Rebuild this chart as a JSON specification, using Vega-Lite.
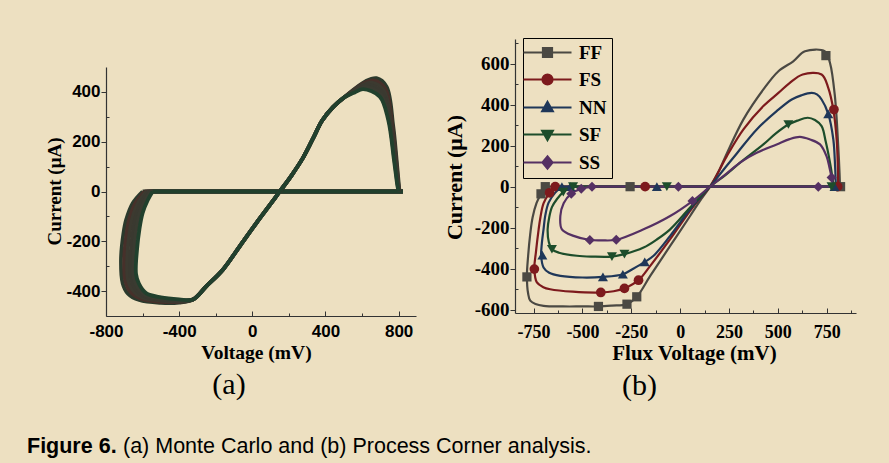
{
"$schema": "https://vega.github.io/schema/vega-lite/v6.json",
"background": "#EDE0C1",
"autosize": {"type": "pad"},
"padding": {"left": 27, "top": 34, "right": 33, "bottom": 5},
"config": {"view": {"stroke": null}, "axis": {"grid": false, "domainColor": "#333", "tickColor": "#333", "domainWidth": 1.2, "tickWidth": 1, "labelColor": "#000", "titleColor": "#000", "labelOverlap": false, "labelFlush": false}},
"title": {"text": "Figure 6.", "orient": "bottom", "anchor": "start", "frame": "group", "font": "Liberation Sans", "fontSize": 21.5, "fontWeight": "bold", "color": "#000", "offset": -21.5, "dx": -79},
"datasets": {
"mc": [
{"r":0,"p":"z","i":0,"v":823,"c":0},{"r":0,"p":"z","i":1,"v":-600,"c":0},
{"r":1,"p":"z","i":0,"v":823,"c":0},{"r":1,"p":"z","i":1,"v":-589,"c":0},
{"r":2,"p":"z","i":0,"v":823,"c":0},{"r":2,"p":"z","i":1,"v":-578,"c":0},
{"r":3,"p":"z","i":0,"v":823,"c":0},{"r":3,"p":"z","i":1,"v":-567,"c":0},
{"r":4,"p":"z","i":0,"v":823,"c":0},{"r":4,"p":"z","i":1,"v":-556,"c":0},
{"r":5,"p":"z","i":0,"v":823,"c":0},{"r":5,"p":"z","i":1,"v":-545,"c":0},
{"r":0,"p":"l","i":1,"v":-600,"c":0},{"r":0,"p":"l","i":2,"v":-654,"c":-47},{"r":0,"p":"l","i":3,"v":-690,"c":-114},{"r":0,"p":"l","i":4,"v":-705,"c":-170},{"r":0,"p":"l","i":5,"v":-718,"c":-274},{"r":0,"p":"l","i":6,"v":-709,"c":-368},{"r":0,"p":"l","i":7,"v":-680,"c":-410},{"r":0,"p":"l","i":8,"v":-618,"c":-436},{"r":0,"p":"l","i":9,"v":-500,"c":-447},{"r":0,"p":"l","i":10,"v":-400,"c":-446},{"r":0,"p":"l","i":11,"v":-325,"c":-434},{"r":0,"p":"l","i":12,"v":-252,"c":-381},{"r":0,"p":"l","i":13,"v":-161,"c":-314},{"r":0,"p":"l","i":14,"v":-70,"c":-221},{"r":0,"p":"l","i":15,"v":22,"c":-127},{"r":0,"p":"l","i":16,"v":90,"c":-60},{"r":0,"p":"l","i":17,"v":150,"c":0},{"r":0,"p":"l","i":18,"v":215,"c":65},{"r":0,"p":"l","i":19,"v":277,"c":135},{"r":0,"p":"l","i":20,"v":330,"c":210},{"r":0,"p":"l","i":21,"v":382,"c":285},{"r":0,"p":"l","i":22,"v":440,"c":338},{"r":0,"p":"l","i":23,"v":497,"c":375},{"r":0,"p":"l","i":24,"v":620,"c":443},{"r":0,"p":"l","i":25,"v":679,"c":455},{"r":0,"p":"l","i":26,"v":734,"c":421},{"r":0,"p":"l","i":27,"v":770,"c":265},{"r":0,"p":"l","i":28,"v":789,"c":127},{"r":0,"p":"l","i":29,"v":802,"c":20},{"r":0,"p":"l","i":30,"v":805,"c":0},
{"r":1,"p":"l","i":1,"v":-589,"c":0},{"r":1,"p":"l","i":2,"v":-638,"c":-45},{"r":1,"p":"l","i":3,"v":-672,"c":-109},{"r":1,"p":"l","i":4,"v":-687,"c":-166},{"r":1,"p":"l","i":5,"v":-700,"c":-265},{"r":1,"p":"l","i":6,"v":-694,"c":-360},{"r":1,"p":"l","i":7,"v":-668,"c":-402},{"r":1,"p":"l","i":8,"v":-611,"c":-430},{"r":1,"p":"l","i":9,"v":-500,"c":-443},{"r":1,"p":"l","i":10,"v":-400,"c":-443},{"r":1,"p":"l","i":11,"v":-325,"c":-434},{"r":1,"p":"l","i":12,"v":-252,"c":-381},{"r":1,"p":"l","i":13,"v":-161,"c":-314},{"r":1,"p":"l","i":14,"v":-70,"c":-221},{"r":1,"p":"l","i":15,"v":22,"c":-127},{"r":1,"p":"l","i":16,"v":90,"c":-60},{"r":1,"p":"l","i":17,"v":150,"c":0},{"r":1,"p":"l","i":18,"v":215,"c":65},{"r":1,"p":"l","i":19,"v":277,"c":135},{"r":1,"p":"l","i":20,"v":330,"c":210},{"r":1,"p":"l","i":21,"v":382,"c":285},{"r":1,"p":"l","i":22,"v":440,"c":338},{"r":1,"p":"l","i":23,"v":497,"c":375},{"r":1,"p":"l","i":24,"v":608,"c":434},{"r":1,"p":"l","i":25,"v":664,"c":446},{"r":1,"p":"l","i":26,"v":727,"c":413},{"r":1,"p":"l","i":27,"v":765,"c":270},{"r":1,"p":"l","i":28,"v":786,"c":128},{"r":1,"p":"l","i":29,"v":800,"c":20},{"r":1,"p":"l","i":30,"v":804,"c":0},
{"r":2,"p":"l","i":1,"v":-578,"c":0},{"r":2,"p":"l","i":2,"v":-621,"c":-42},{"r":2,"p":"l","i":3,"v":-654,"c":-103},{"r":2,"p":"l","i":4,"v":-670,"c":-162},{"r":2,"p":"l","i":5,"v":-683,"c":-256},{"r":2,"p":"l","i":6,"v":-680,"c":-353},{"r":2,"p":"l","i":7,"v":-656,"c":-394},{"r":2,"p":"l","i":8,"v":-603,"c":-425},{"r":2,"p":"l","i":9,"v":-500,"c":-438},{"r":2,"p":"l","i":10,"v":-400,"c":-441},{"r":2,"p":"l","i":11,"v":-325,"c":-434},{"r":2,"p":"l","i":12,"v":-252,"c":-381},{"r":2,"p":"l","i":13,"v":-161,"c":-314},{"r":2,"p":"l","i":14,"v":-70,"c":-221},{"r":2,"p":"l","i":15,"v":22,"c":-127},{"r":2,"p":"l","i":16,"v":90,"c":-60},{"r":2,"p":"l","i":17,"v":150,"c":0},{"r":2,"p":"l","i":18,"v":215,"c":65},{"r":2,"p":"l","i":19,"v":277,"c":135},{"r":2,"p":"l","i":20,"v":330,"c":210},{"r":2,"p":"l","i":21,"v":382,"c":285},{"r":2,"p":"l","i":22,"v":440,"c":338},{"r":2,"p":"l","i":23,"v":497,"c":375},{"r":2,"p":"l","i":24,"v":596,"c":425},{"r":2,"p":"l","i":25,"v":650,"c":437},{"r":2,"p":"l","i":26,"v":719,"c":405},{"r":2,"p":"l","i":27,"v":759,"c":274},{"r":2,"p":"l","i":28,"v":783,"c":128},{"r":2,"p":"l","i":29,"v":799,"c":20},{"r":2,"p":"l","i":30,"v":803,"c":0},
{"r":3,"p":"l","i":1,"v":-567,"c":0},{"r":3,"p":"l","i":2,"v":-605,"c":-40},{"r":3,"p":"l","i":3,"v":-636,"c":-98},{"r":3,"p":"l","i":4,"v":-652,"c":-158},{"r":3,"p":"l","i":5,"v":-665,"c":-248},{"r":3,"p":"l","i":6,"v":-665,"c":-345},{"r":3,"p":"l","i":7,"v":-644,"c":-386},{"r":3,"p":"l","i":8,"v":-596,"c":-419},{"r":3,"p":"l","i":9,"v":-500,"c":-434},{"r":3,"p":"l","i":10,"v":-400,"c":-438},{"r":3,"p":"l","i":11,"v":-325,"c":-434},{"r":3,"p":"l","i":12,"v":-252,"c":-381},{"r":3,"p":"l","i":13,"v":-161,"c":-314},{"r":3,"p":"l","i":14,"v":-70,"c":-221},{"r":3,"p":"l","i":15,"v":22,"c":-127},{"r":3,"p":"l","i":16,"v":90,"c":-60},{"r":3,"p":"l","i":17,"v":150,"c":0},{"r":3,"p":"l","i":18,"v":215,"c":65},{"r":3,"p":"l","i":19,"v":277,"c":135},{"r":3,"p":"l","i":20,"v":330,"c":210},{"r":3,"p":"l","i":21,"v":382,"c":285},{"r":3,"p":"l","i":22,"v":440,"c":338},{"r":3,"p":"l","i":23,"v":497,"c":375},{"r":3,"p":"l","i":24,"v":584,"c":416},{"r":3,"p":"l","i":25,"v":635,"c":429},{"r":3,"p":"l","i":26,"v":712,"c":397},{"r":3,"p":"l","i":27,"v":754,"c":279},{"r":3,"p":"l","i":28,"v":780,"c":129},{"r":3,"p":"l","i":29,"v":797,"c":20},{"r":3,"p":"l","i":30,"v":802,"c":0},
{"r":4,"p":"l","i":1,"v":-556,"c":0},{"r":4,"p":"l","i":2,"v":-588,"c":-37},{"r":4,"p":"l","i":3,"v":-618,"c":-92},{"r":4,"p":"l","i":4,"v":-635,"c":-154},{"r":4,"p":"l","i":5,"v":-648,"c":-239},{"r":4,"p":"l","i":6,"v":-651,"c":-338},{"r":4,"p":"l","i":7,"v":-632,"c":-378},{"r":4,"p":"l","i":8,"v":-588,"c":-414},{"r":4,"p":"l","i":9,"v":-500,"c":-429},{"r":4,"p":"l","i":10,"v":-400,"c":-436},{"r":4,"p":"l","i":11,"v":-325,"c":-434},{"r":4,"p":"l","i":12,"v":-252,"c":-381},{"r":4,"p":"l","i":13,"v":-161,"c":-314},{"r":4,"p":"l","i":14,"v":-70,"c":-221},{"r":4,"p":"l","i":15,"v":22,"c":-127},{"r":4,"p":"l","i":16,"v":90,"c":-60},{"r":4,"p":"l","i":17,"v":150,"c":0},{"r":4,"p":"l","i":18,"v":215,"c":65},{"r":4,"p":"l","i":19,"v":277,"c":135},{"r":4,"p":"l","i":20,"v":330,"c":210},{"r":4,"p":"l","i":21,"v":382,"c":285},{"r":4,"p":"l","i":22,"v":440,"c":338},{"r":4,"p":"l","i":23,"v":497,"c":375},{"r":4,"p":"l","i":24,"v":572,"c":407},{"r":4,"p":"l","i":25,"v":621,"c":420},{"r":4,"p":"l","i":26,"v":704,"c":389},{"r":4,"p":"l","i":27,"v":748,"c":283},{"r":4,"p":"l","i":28,"v":777,"c":129},{"r":4,"p":"l","i":29,"v":796,"c":20},{"r":4,"p":"l","i":30,"v":801,"c":0},
{"r":5,"p":"l","i":1,"v":-545,"c":0},{"r":5,"p":"l","i":2,"v":-572,"c":-35},{"r":5,"p":"l","i":3,"v":-600,"c":-87},{"r":5,"p":"l","i":4,"v":-617,"c":-150},{"r":5,"p":"l","i":5,"v":-630,"c":-230},{"r":5,"p":"l","i":6,"v":-636,"c":-330},{"r":5,"p":"l","i":7,"v":-620,"c":-370},{"r":5,"p":"l","i":8,"v":-581,"c":-408},{"r":5,"p":"l","i":9,"v":-500,"c":-425},{"r":5,"p":"l","i":10,"v":-400,"c":-433},{"r":5,"p":"l","i":11,"v":-325,"c":-434},{"r":5,"p":"l","i":12,"v":-252,"c":-381},{"r":5,"p":"l","i":13,"v":-161,"c":-314},{"r":5,"p":"l","i":14,"v":-70,"c":-221},{"r":5,"p":"l","i":15,"v":22,"c":-127},{"r":5,"p":"l","i":16,"v":90,"c":-60},{"r":5,"p":"l","i":17,"v":150,"c":0},{"r":5,"p":"l","i":18,"v":215,"c":65},{"r":5,"p":"l","i":19,"v":277,"c":135},{"r":5,"p":"l","i":20,"v":330,"c":210},{"r":5,"p":"l","i":21,"v":382,"c":285},{"r":5,"p":"l","i":22,"v":440,"c":338},{"r":5,"p":"l","i":23,"v":497,"c":375},{"r":5,"p":"l","i":24,"v":560,"c":398},{"r":5,"p":"l","i":25,"v":606,"c":411},{"r":5,"p":"l","i":26,"v":697,"c":381},{"r":5,"p":"l","i":27,"v":743,"c":288},{"r":5,"p":"l","i":28,"v":774,"c":130},{"r":5,"p":"l","i":29,"v":794,"c":20},{"r":5,"p":"l","i":30,"v":800,"c":0}
],
"pc": [
{"s":"FF","p":"z","i":0,"v":821,"c":0},{"s":"FF","p":"z","i":1,"v":-690,"c":0},
{"s":"FS","p":"z","i":0,"v":812,"c":0},{"s":"FS","p":"z","i":1,"v":-639,"c":0},
{"s":"NN","p":"z","i":0,"v":800,"c":0},{"s":"NN","p":"z","i":1,"v":-605,"c":0},
{"s":"SF","p":"z","i":0,"v":785,"c":0},{"s":"SF","p":"z","i":1,"v":-548,"c":0},
{"s":"SS","p":"z","i":0,"v":784,"c":0},{"s":"SS","p":"z","i":1,"v":-451,"c":0},
{"s":"FF","p":"l","i":1,"v":-690,"c":0},{"s":"FF","p":"l","i":2,"v":-712,"c":-35},{"s":"FF","p":"l","i":3,"v":-735,"c":-80},{"s":"FF","p":"l","i":4,"v":-755,"c":-150},{"s":"FF","p":"l","i":5,"v":-767,"c":-230},{"s":"FF","p":"l","i":6,"v":-778,"c":-340},{"s":"FF","p":"l","i":7,"v":-784,"c":-435},{"s":"FF","p":"l","i":8,"v":-778,"c":-520},{"s":"FF","p":"l","i":9,"v":-767,"c":-556},{"s":"FF","p":"l","i":10,"v":-740,"c":-572},{"s":"FF","p":"l","i":11,"v":-699,"c":-581},{"s":"FF","p":"l","i":12,"v":-600,"c":-584},{"s":"FF","p":"l","i":13,"v":-500,"c":-584},{"s":"FF","p":"l","i":14,"v":-417,"c":-584},{"s":"FF","p":"l","i":15,"v":-350,"c":-580},{"s":"FF","p":"l","i":16,"v":-272,"c":-573},{"s":"FF","p":"l","i":17,"v":-222,"c":-537},{"s":"FF","p":"l","i":18,"v":-153,"c":-435},{"s":"FF","p":"l","i":19,"v":-51,"c":-289},{"s":"FF","p":"l","i":20,"v":51,"c":-143},{"s":"FF","p":"l","i":21,"v":100,"c":-72},{"s":"FF","p":"l","i":22,"v":153,"c":0},{"s":"FF","p":"l","i":23,"v":200,"c":80},{"s":"FF","p":"l","i":24,"v":239,"c":162},{"s":"FF","p":"l","i":25,"v":324,"c":328},{"s":"FF","p":"l","i":26,"v":426,"c":474},{"s":"FF","p":"l","i":27,"v":503,"c":563},{"s":"FF","p":"l","i":28,"v":579,"c":611},{"s":"FF","p":"l","i":29,"v":639,"c":660},{"s":"FF","p":"l","i":30,"v":741,"c":660},{"s":"FF","p":"l","i":31,"v":767,"c":603},{"s":"FF","p":"l","i":32,"v":792,"c":441},{"s":"FF","p":"l","i":33,"v":809,"c":198},{"s":"FF","p":"l","i":34,"v":816,"c":60},{"s":"FF","p":"l","i":35,"v":818,"c":0},
{"s":"FS","p":"l","i":1,"v":-639,"c":0},{"s":"FS","p":"l","i":2,"v":-668,"c":-30},{"s":"FS","p":"l","i":3,"v":-699,"c":-81},{"s":"FS","p":"l","i":4,"v":-715,"c":-150},{"s":"FS","p":"l","i":5,"v":-724,"c":-208},{"s":"FS","p":"l","i":6,"v":-738,"c":-320},{"s":"FS","p":"l","i":7,"v":-746,"c":-402},{"s":"FS","p":"l","i":8,"v":-733,"c":-467},{"s":"FS","p":"l","i":9,"v":-700,"c":-490},{"s":"FS","p":"l","i":10,"v":-665,"c":-500},{"s":"FS","p":"l","i":11,"v":-550,"c":-512},{"s":"FS","p":"l","i":12,"v":-406,"c":-516},{"s":"FS","p":"l","i":13,"v":-340,"c":-510},{"s":"FS","p":"l","i":14,"v":-285,"c":-496},{"s":"FS","p":"l","i":15,"v":-213,"c":-456},{"s":"FS","p":"l","i":16,"v":-153,"c":-386},{"s":"FS","p":"l","i":17,"v":-51,"c":-256},{"s":"FS","p":"l","i":18,"v":51,"c":-118},{"s":"FS","p":"l","i":19,"v":100,"c":-58},{"s":"FS","p":"l","i":20,"v":153,"c":0},{"s":"FS","p":"l","i":21,"v":239,"c":149},{"s":"FS","p":"l","i":22,"v":324,"c":279},{"s":"FS","p":"l","i":23,"v":426,"c":393},{"s":"FS","p":"l","i":24,"v":503,"c":457},{"s":"FS","p":"l","i":25,"v":560,"c":505},{"s":"FS","p":"l","i":26,"v":627,"c":547},{"s":"FS","p":"l","i":27,"v":724,"c":547},{"s":"FS","p":"l","i":28,"v":758,"c":482},{"s":"FS","p":"l","i":29,"v":784,"c":376},{"s":"FS","p":"l","i":30,"v":801,"c":230},{"s":"FS","p":"l","i":31,"v":807,"c":100},{"s":"FS","p":"l","i":32,"v":809,"c":0},
{"s":"NN","p":"l","i":1,"v":-605,"c":0},{"s":"NN","p":"l","i":2,"v":-639,"c":-29},{"s":"NN","p":"l","i":3,"v":-673,"c":-78},{"s":"NN","p":"l","i":4,"v":-690,"c":-140},{"s":"NN","p":"l","i":5,"v":-699,"c":-208},{"s":"NN","p":"l","i":6,"v":-708,"c":-280},{"s":"NN","p":"l","i":7,"v":-711,"c":-337},{"s":"NN","p":"l","i":8,"v":-699,"c":-394},{"s":"NN","p":"l","i":9,"v":-670,"c":-420},{"s":"NN","p":"l","i":10,"v":-613,"c":-435},{"s":"NN","p":"l","i":11,"v":-500,"c":-443},{"s":"NN","p":"l","i":12,"v":-395,"c":-440},{"s":"NN","p":"l","i":13,"v":-293,"c":-427},{"s":"NN","p":"l","i":14,"v":-240,"c":-400},{"s":"NN","p":"l","i":15,"v":-181,"c":-367},{"s":"NN","p":"l","i":16,"v":-136,"c":-337},{"s":"NN","p":"l","i":17,"v":-51,"c":-240},{"s":"NN","p":"l","i":18,"v":51,"c":-110},{"s":"NN","p":"l","i":19,"v":153,"c":0},{"s":"NN","p":"l","i":20,"v":220,"c":80},{"s":"NN","p":"l","i":21,"v":290,"c":162},{"s":"NN","p":"l","i":22,"v":392,"c":279},{"s":"NN","p":"l","i":23,"v":494,"c":368},{"s":"NN","p":"l","i":24,"v":571,"c":425},{"s":"NN","p":"l","i":25,"v":620,"c":445},{"s":"NN","p":"l","i":26,"v":673,"c":457},{"s":"NN","p":"l","i":27,"v":700,"c":450},{"s":"NN","p":"l","i":28,"v":724,"c":425},{"s":"NN","p":"l","i":29,"v":758,"c":355},{"s":"NN","p":"l","i":30,"v":784,"c":230},{"s":"NN","p":"l","i":31,"v":793,"c":100},{"s":"NN","p":"l","i":32,"v":797,"c":0},
{"s":"SF","p":"l","i":1,"v":-548,"c":0},{"s":"SF","p":"l","i":2,"v":-575,"c":-12},{"s":"SF","p":"l","i":3,"v":-598,"c":-27},{"s":"SF","p":"l","i":4,"v":-630,"c":-60},{"s":"SF","p":"l","i":5,"v":-656,"c":-100},{"s":"SF","p":"l","i":6,"v":-670,"c":-150},{"s":"SF","p":"l","i":7,"v":-678,"c":-208},{"s":"SF","p":"l","i":8,"v":-672,"c":-270},{"s":"SF","p":"l","i":9,"v":-656,"c":-305},{"s":"SF","p":"l","i":10,"v":-620,"c":-322},{"s":"SF","p":"l","i":11,"v":-528,"c":-337},{"s":"SF","p":"l","i":12,"v":-450,"c":-341},{"s":"SF","p":"l","i":13,"v":-349,"c":-341},{"s":"SF","p":"l","i":14,"v":-285,"c":-329},{"s":"SF","p":"l","i":15,"v":-187,"c":-297},{"s":"SF","p":"l","i":16,"v":-120,"c":-258},{"s":"SF","p":"l","i":17,"v":-51,"c":-208},{"s":"SF","p":"l","i":18,"v":51,"c":-102},{"s":"SF","p":"l","i":19,"v":153,"c":0},{"s":"SF","p":"l","i":20,"v":230,"c":55},{"s":"SF","p":"l","i":21,"v":307,"c":117},{"s":"SF","p":"l","i":22,"v":426,"c":206},{"s":"SF","p":"l","i":23,"v":490,"c":260},{"s":"SF","p":"l","i":24,"v":554,"c":303},{"s":"SF","p":"l","i":25,"v":600,"c":322},{"s":"SF","p":"l","i":26,"v":653,"c":336},{"s":"SF","p":"l","i":27,"v":690,"c":325},{"s":"SF","p":"l","i":28,"v":724,"c":295},{"s":"SF","p":"l","i":29,"v":745,"c":220},{"s":"SF","p":"l","i":30,"v":767,"c":117},{"s":"SF","p":"l","i":31,"v":780,"c":40},{"s":"SF","p":"l","i":32,"v":785,"c":0},
{"s":"SS","p":"l","i":1,"v":-451,"c":0},{"s":"SS","p":"l","i":2,"v":-506,"c":-10},{"s":"SS","p":"l","i":3,"v":-557,"c":-34},{"s":"SS","p":"l","i":4,"v":-596,"c":-81},{"s":"SS","p":"l","i":5,"v":-613,"c":-143},{"s":"SS","p":"l","i":6,"v":-605,"c":-208},{"s":"SS","p":"l","i":7,"v":-545,"c":-240},{"s":"SS","p":"l","i":8,"v":-462,"c":-260},{"s":"SS","p":"l","i":9,"v":-400,"c":-262},{"s":"SS","p":"l","i":10,"v":-327,"c":-259},{"s":"SS","p":"l","i":11,"v":-187,"c":-208},{"s":"SS","p":"l","i":12,"v":-51,"c":-143},{"s":"SS","p":"l","i":13,"v":63,"c":-70},{"s":"SS","p":"l","i":14,"v":153,"c":0},{"s":"SS","p":"l","i":15,"v":239,"c":65},{"s":"SS","p":"l","i":16,"v":310,"c":120},{"s":"SS","p":"l","i":17,"v":392,"c":165},{"s":"SS","p":"l","i":18,"v":494,"c":206},{"s":"SS","p":"l","i":19,"v":560,"c":232},{"s":"SS","p":"l","i":20,"v":613,"c":243},{"s":"SS","p":"l","i":21,"v":665,"c":230},{"s":"SS","p":"l","i":22,"v":716,"c":206},{"s":"SS","p":"l","i":23,"v":750,"c":146},{"s":"SS","p":"l","i":24,"v":765,"c":90},{"s":"SS","p":"l","i":25,"v":775,"c":45},{"s":"SS","p":"l","i":26,"v":784,"c":0}
],
"pm": [
{"s":"FF","v":-690,"c":0},{"s":"FF","v":-712,"c":-35},{"s":"FF","v":-256,"c":0},{"s":"FF","v":-784,"c":-440},{"s":"FF","v":-418,"c":-584},{"s":"FF","v":-272,"c":-573},{"s":"FF","v":-222,"c":-537},{"s":"FF","v":746,"c":639},{"s":"FF","v":821,"c":0},
{"s":"FS","v":-639,"c":0},{"s":"FS","v":-668,"c":-30},{"s":"FS","v":-179,"c":0},{"s":"FS","v":-746,"c":-402},{"s":"FS","v":-406,"c":-516},{"s":"FS","v":-285,"c":-496},{"s":"FS","v":-213,"c":-456},{"s":"FS","v":787,"c":376},{"s":"FS","v":806,"c":0},
{"s":"NN","v":-605,"c":0},{"s":"NN","v":-562,"c":0},{"s":"NN","v":-119,"c":0},{"s":"NN","v":-705,"c":-334},{"s":"NN","v":-395,"c":-440},{"s":"NN","v":-293,"c":-427},{"s":"NN","v":-181,"c":-367},{"s":"NN","v":758,"c":355},{"s":"NN","v":790,"c":0},
{"s":"SF","v":-598,"c":-27},{"s":"SF","v":-548,"c":0},{"s":"SF","v":-68,"c":0},{"s":"SF","v":-656,"c":-305},{"s":"SF","v":-349,"c":-341},{"s":"SF","v":-285,"c":-329},{"s":"SF","v":554,"c":303},{"s":"SF","v":775,"c":0},
{"s":"SS","v":-557,"c":-34},{"s":"SS","v":-506,"c":-10},{"s":"SS","v":-451,"c":0},{"s":"SS","v":-462,"c":-260},{"s":"SS","v":-327,"c":-259},{"s":"SS","v":-9,"c":0},{"s":"SS","v":63,"c":-70},{"s":"SS","v":707,"c":0},{"s":"SS","v":775,"c":45}
]
},
"vconcat": [
{
"title": {"text": "(a) Monte Carlo and (b) Process Corner analysis.", "orient": "bottom", "anchor": "start", "frame": "group", "font": "Liberation Sans", "fontSize": 21.5, "fontWeight": "normal", "color": "#000", "offset": 35, "dx": 17},
"spacing": 99,
"bounds": "flush",
"resolve": {"scale": {"color": "independent", "shape": "independent", "x": "independent", "y": "independent"}, "legend": {"color": "independent", "shape": "independent"}},
"hconcat": [
{
"width": 310, "height": 277,
"data": {"name": "mc"},
"title": {"text": "(a)", "orient": "bottom", "font": "Liberation Serif", "fontSize": 30, "fontWeight": "normal", "color": "#000", "dx": -32, "offset": 8},
"mark": {"type": "line", "interpolate": "catmull-rom", "strokeWidth": 3.8},
"encoding": {
"x": {"field": "v", "type": "quantitative", "scale": {"domain": [-800, 895], "nice": false, "zero": false},
"axis": {"title": "Voltage (mV)", "values": [-800,-600,-400,-200,0,200,400,600,800], "labelExpr": "datum.value % 400 === 0 ? '' + datum.value : ''", "labelFont": "Liberation Sans", "labelFontSize": 17, "labelFontWeight": "bold", "tickSize": {"condition": {"test": "datum.value % 400 === 0", "value": -5}, "value": -3}, "labelPadding": 12, "titleFont": "Liberation Serif", "titleFontSize": 19.5, "titleFontWeight": "bold", "titleX": 150, "titleY": 42, "titleBaseline": "alphabetic"}},
"y": {"field": "c", "type": "quantitative", "scale": {"domain": [-500, 500], "range": [277, 28], "nice": false, "zero": false},
"axis": {"title": "Current (μA)", "values": [-400,-300,-200,-100,0,100,200,300,400], "labelExpr": "datum.value % 200 === 0 ? '' + datum.value : ''", "labelFont": "Liberation Sans", "labelFontSize": 17, "labelFontWeight": "bold", "tickSize": {"condition": {"test": "datum.value % 200 === 0", "value": 5}, "value": -3}, "labelPadding": 1, "titleFont": "Liberation Serif", "titleFontSize": 19, "titleFontWeight": "bold", "titleX": -46, "titleY": 152, "titleBaseline": "alphabetic", "titleAlign": "center"}},
"detail": [{"field": "r"}, {"field": "p"}],
"order": {"field": "i", "type": "quantitative"},
"color": {"field": "r", "type": "nominal", "scale": {"domain": [0,1,2,3,4,5], "range": ["#2b3a2d", "#47302a", "#3c3a30", "#3a3930", "#3a3b31", "#21402d"]}, "legend": null}
}
},
{
"width": 341, "height": 274,
"title": {"text": "(b)", "orient": "bottom", "font": "Liberation Serif", "fontSize": 30, "fontWeight": "normal", "color": "#000", "dx": -46, "offset": 8},
"encoding": {
"x": {"field": "v", "type": "quantitative", "scale": {"domain": [-845, 900], "nice": false, "zero": false},
"axis": {"title": "Flux Voltage (mV)", "values": [-750,-625,-500,-375,-250,-125,0,125,250,375,500,625,750,875], "labelExpr": "datum.value % 250 === 0 ? '' + datum.value : ''", "labelFont": "Liberation Serif", "labelFontSize": 18, "labelFontWeight": "bold", "tickSize": {"condition": {"test": "datum.value % 250 === 0", "value": -5}, "value": -3}, "labelPadding": 15, "titleFont": "Liberation Serif", "titleFontSize": 21, "titleFontWeight": "bold", "titleX": 179, "titleY": 46, "titleBaseline": "alphabetic"}},
"y": {"field": "c", "type": "quantitative", "scale": {"domain": [-616, 720], "nice": false, "zero": false},
"axis": {"title": "Current (μA)", "values": [-600,-500,-400,-300,-200,-100,0,100,200,300,400,500,600,700], "labelExpr": "datum.value % 200 === 0 ? '' + datum.value : ''", "labelFont": "Liberation Serif", "labelFontSize": 19, "labelFontWeight": "bold", "tickSize": {"condition": {"test": "datum.value % 200 === 0", "value": 5}, "value": -3}, "labelPadding": 1, "titleFont": "Liberation Serif", "titleFontSize": 22, "titleFontWeight": "bold", "titleX": -54, "titleY": 138, "titleBaseline": "alphabetic", "titleAlign": "center"}},
"color": {"field": "s", "type": "nominal", "scale": {"domain": ["FF","FS","NN","SF","SS"], "range": ["#4b4943","#7d1a1d","#1f3759","#1d4d2b","#553063"]},
"legend": {"title": null, "orient": "none", "legendX": 8, "legendY": -1, "strokeColor": "#000", "padding": 5, "labelFont": "Liberation Serif", "labelFontSize": 19, "labelFontWeight": "bold", "labelColor": "#000", "symbolSize": 100, "symbolStrokeWidth": 2.2, "symbolOffset": 10, "labelOffset": 22, "rowPadding": 7,
"encode": {"symbols": {"update": {
"shape": {"signal": "datum.value === 'FF' ? 'M-4.8,0H4.8M-0.9,-0.9H0.9V0.9H-0.9Z' : datum.value === 'FS' ? 'M-4.8,0H4.8M1,0A1,1,0,1,1,-1,0A1,1,0,1,1,1,0Z' : datum.value === 'NN' ? 'M-4.8,0H4.8M0,-1.1L1.05,0.75H-1.05Z' : datum.value === 'SF' ? 'M-4.8,0H4.8M0,1.1L1.05,-0.75H-1.05Z' : 'M-4.8,0H4.8M0,-1.2L1,0L0,1.2L-1,0Z'"},
"size": {"value": 100},
"fill": {"signal": "datum.value === 'FF' ? '#4b4943' : datum.value === 'FS' ? '#7d1a1d' : datum.value === 'NN' ? '#1f3759' : datum.value === 'SF' ? '#1d4d2b' : '#553063'"},
"stroke": {"signal": "datum.value === 'FF' ? '#4b4943' : datum.value === 'FS' ? '#7d1a1d' : datum.value === 'NN' ? '#1f3759' : datum.value === 'SF' ? '#1d4d2b' : '#553063'"},
"strokeWidth": {"value": 2.2},
"opacity": {"value": 1}
}}}}}
},
"layer": [
{
"data": {"name": "pc"},
"mark": {"type": "line", "interpolate": "catmull-rom", "strokeWidth": 2.2},
"encoding": {
"detail": {"field": "p"},
"order": {"field": "i", "type": "quantitative"}
}
},
{"data": {"name": "pm"}, "transform": [{"filter": "datum.s === 'FF'"}], "mark": {"type": "point", "shape": "square", "filled": true, "opacity": 1, "size": 85}},
{"data": {"name": "pm"}, "transform": [{"filter": "datum.s === 'FS'"}], "mark": {"type": "point", "shape": "circle", "filled": true, "opacity": 1, "size": 95}},
{"data": {"name": "pm"}, "transform": [{"filter": "datum.s === 'NN'"}], "mark": {"type": "point", "shape": "triangle-up", "filled": true, "opacity": 1, "size": 100}},
{"data": {"name": "pm"}, "transform": [{"filter": "datum.s === 'SF'"}], "mark": {"type": "point", "shape": "triangle-down", "filled": true, "opacity": 1, "size": 100}},
{"data": {"name": "pm"}, "transform": [{"filter": "datum.s === 'SS'"}], "mark": {"type": "point", "shape": "diamond", "filled": true, "opacity": 1, "size": 100}}
]
}
]
}
]
}
